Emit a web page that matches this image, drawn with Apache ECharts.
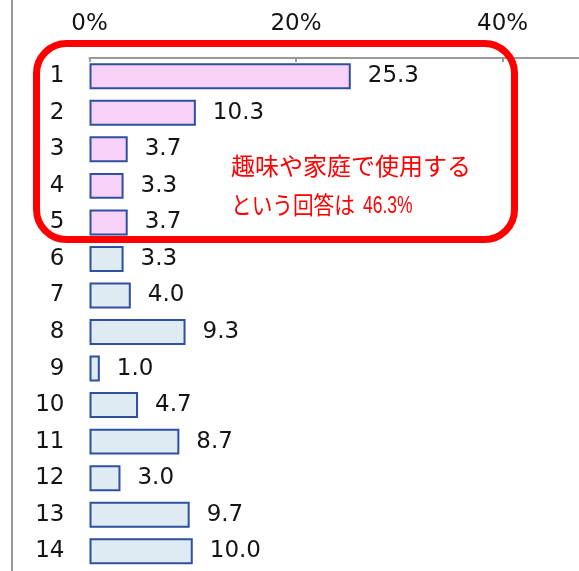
<!DOCTYPE html>
<html>
<head>
<meta charset="utf-8">
<script src="https://cdn.jsdelivr.net/npm/echarts@6/dist/echarts.min.js"></script>
<style>
  html, body { margin: 0; padding: 0; background: #fff; }
  #chart { width: 579px; height: 571px; }
</style>
</head>
<body>
<div id="chart"></div>
<script>
// 回答番号と割合(%)
const categories = ['1', '2', '3', '4', '5', '6', '7', '8', '9', '10', '11', '12', '13', '14'];
const values = [25.3, 10.3, 3.7, 3.3, 3.7, 3.3, 4.0, 9.3, 1.0, 4.7, 8.7, 3.0, 9.7, 10.0];
const xTicks = [0, 20, 40];
// 趣味・家庭で使用する の回答（1〜5）
const hobbyGroup = ['1', '2', '3', '4', '5'];
const noteLines = ['趣味や家庭で使用する', 'という回答は', '46.3%'];

const font = '"DejaVu Sans", Verdana, sans-serif';
const jpFont = '"Noto Sans CJK JP", sans-serif';
const textColor = '#141414';

const barData = values.map((v, i) => ({
  value: v,
  itemStyle: {
    color: hobbyGroup.includes(categories[i]) ? '#f8d1f8' : '#deebf2'
  }
}));

const chart = echarts.init(document.getElementById('chart'));

chart.setOption({
  animation: false,
  grid: {
    left: 89.5,
    right: 0,
    top: 58,
    height: 511.5
  },
  xAxis: {
    type: 'value',
    position: 'top',
    min: 0,
    max: 47.4,
    interval: 20,
    axisLine: { show: true, lineStyle: { color: '#9a9a9a', width: 2 } },
    axisTick: { show: true, inside: true, length: 4, lineStyle: { color: '#9a9a9a', width: 2 } },
    splitLine: { show: false },
    axisLabel: {
      showMaxLabel: false,
      margin: 22,
      color: textColor,
      fontSize: 23,
      fontFamily: font,
      formatter: v => (xTicks.includes(v) ? v + '%' : '')
    }
  },
  yAxis: {
    type: 'category',
    inverse: true,
    data: categories,
    axisLine: { show: false },
    axisTick: { show: false },
    axisLabel: {
      margin: 25,
      color: textColor,
      fontSize: 23,
      fontFamily: font
    }
  },
  series: [
    {
      type: 'bar',
      data: barData,
      barCategoryGap: '29%',
      itemStyle: {
        borderColor: '#2f4f9f',
        borderWidth: 2
      },
      label: {
        show: true,
        position: 'right',
        distance: 17,
        color: textColor,
        fontSize: 23,
        fontFamily: font,
        formatter: p => p.value.toFixed(1)
      }
    }
  ],
  graphic: [
    // 左端の枠線
    {
      type: 'line',
      shape: { x1: 12, y1: 0, x2: 12, y2: 571 },
      style: { stroke: '#9a9a9a', lineWidth: 2 },
      z: 5
    },
    // 赤い角丸枠
    {
      type: 'rect',
      shape: { x: 36.5, y: 43.5, width: 478, height: 196, r: 30 },
      style: { fill: 'none', stroke: '#ff0000', lineWidth: 7 },
      z: 100
    },
    {
      type: 'text',
      x: 231,
      y: 166,
      style: {
        text: noteLines[0],
        fill: '#ff0000',
        font: '24px ' + jpFont,
        verticalAlign: 'middle'
      },
      z: 100
    },
    {
      type: 'text',
      x: 231,
      y: 205,
      scaleX: 0.86,
      style: {
        text: noteLines[1],
        fill: '#ff0000',
        font: '24px ' + jpFont,
        verticalAlign: 'middle'
      },
      z: 100
    },
    {
      type: 'text',
      x: 363,
      y: 206,
      scaleX: 0.73,
      style: {
        text: noteLines[2],
        fill: '#ff0000',
        font: '24px "Liberation Sans", sans-serif',
        verticalAlign: 'middle'
      },
      z: 100
    }
  ]
});
</script>
</body>
</html>
